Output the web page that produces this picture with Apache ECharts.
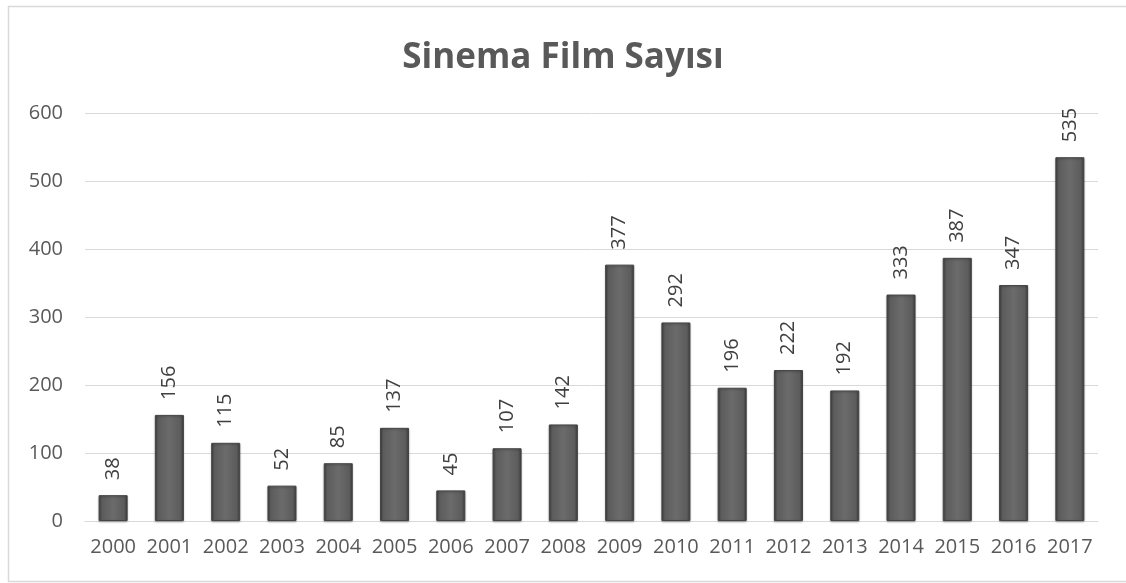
<!DOCTYPE html>
<html>
<head>
<meta charset="utf-8">
<script src="https://cdn.jsdelivr.net/npm/echarts@6/dist/echarts.min.js"></script>
<style>
  html, body { margin: 0; padding: 0; background: #fff; }
  #chart { width: 1126px; height: 583px; }
</style>
</head>
<body>
<div id="chart"></div>
<script>
// yıllar ve film sayıları
var years = ['2000', '2001', '2002', '2003', '2004', '2005', '2006', '2007', '2008',
  '2009', '2010', '2011', '2012', '2013', '2014', '2015', '2016', '2017'];
var filmCounts = [38, 156, 115, 52, 85, 137, 45, 107, 142, 377, 292, 196, 222, 192, 333, 387, 347, 535];

var myChart = echarts.init(document.getElementById('chart'));
var option = {
  animation: false,
  textStyle: { fontFamily: 'Open Sans' },
  graphic: [{
    type: 'rect',
    shape: { x: 8.5, y: 6.5, width: 1130, height: 575 },
    style: { fill: 'none', stroke: '#d9d9d9', lineWidth: 1.5 },
    silent: true
  }],
  title: {
    text: 'Sinema Film Sayısı',
    left: 'center',
    top: 36,
    textStyle: { fontSize: 35, fontWeight: 'bold', color: '#595959', fontFamily: 'Open Sans' }
  },
  grid: { left: 85, right: 28, top: 113, bottom: 62, containLabel: false },
  xAxis: {
    type: 'category',
    data: years,
    axisLine: { lineStyle: { color: '#d9d9d9', width: 1 } },
    axisTick: { show: false },
    axisLabel: { color: '#595959', fontSize: 20, margin: 16, interval: 0 }
  },
  yAxis: {
    type: 'value',
    min: 0,
    max: 600,
    interval: 100,
    axisLine: { show: false },
    axisTick: { show: false },
    splitLine: { lineStyle: { color: '#d9d9d9', width: 1 } },
    axisLabel: { color: '#595959', fontSize: 20, margin: 22 }
  },
  series: [{
    type: 'bar',
    data: filmCounts,
    barWidth: 29,
    itemStyle: {
      color: {
        type: 'linear', x: 0, y: 0, x2: 1, y2: 0,
        colorStops: [
          { offset: 0, color: '#3d3d3d' },
          { offset: 0.12, color: '#5c5c5c' },
          { offset: 0.5, color: '#6b6b6b' },
          { offset: 0.88, color: '#5c5c5c' },
          { offset: 1, color: '#3d3d3d' }
        ]
      },
      borderColor: '#454545',
      borderWidth: 1,
      shadowColor: 'rgba(0,0,0,0.25)',
      shadowBlur: 2,
      shadowOffsetY: 1
    },
    label: {
      show: true,
      position: 'top',
      rotate: 90,
      align: 'left',
      verticalAlign: 'middle',
      distance: 15,
      color: '#404040',
      fontSize: 20
    }
  }]
};
myChart.setOption(option);
</script>
</body>
</html>
